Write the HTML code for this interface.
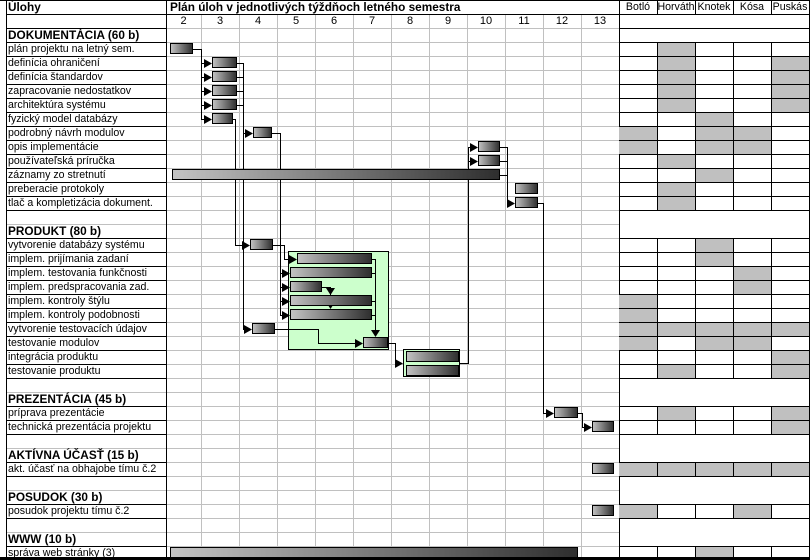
<!DOCTYPE html>
<html><head><meta charset="utf-8">
<style>
body{margin:0;width:810px;height:560px;background:#fff;overflow:hidden;position:relative;font-family:"Liberation Sans",Arial,sans-serif;font-size:10.6px;color:#000}
.t{position:absolute;left:8px;height:14px;line-height:14px;white-space:nowrap}
.b{font-weight:bold;font-size:11.8px}
.n{position:absolute;top:14px;height:14px;line-height:14px;text-align:center;font-size:11px}
.p{position:absolute;top:0;height:14px;line-height:14px;text-align:center}
svg{position:absolute;left:0;top:0}
</style></head><body>
<svg width="810" height="560" viewBox="0 0 810 560">
<defs>
<linearGradient id="g" x1="0" y1="0" x2="1" y2="0"><stop offset="0" stop-color="#c4c4c4"/><stop offset="1" stop-color="#2e2e2e"/></linearGradient>
<linearGradient id="v" x1="0" y1="0" x2="0" y2="1"><stop offset="0" stop-color="#fff" stop-opacity="0.25"/><stop offset="1" stop-color="#000" stop-opacity="0.25"/></linearGradient>
<pattern id="hg" x="0" y="0" width="810" height="14" patternUnits="userSpaceOnUse"><rect x="0" y="0" width="810" height="1" fill="#c0c0c0"/></pattern>
</defs>
<rect x="6" y="14" width="613" height="544" fill="url(#hg)"/>
<g stroke="#c0c0c0" stroke-width="1">
<line x1="201.5" y1="14" x2="201.5" y2="558"/><line x1="239.5" y1="14" x2="239.5" y2="558"/>
<line x1="277.5" y1="14" x2="277.5" y2="558"/><line x1="315.5" y1="14" x2="315.5" y2="558"/>
<line x1="353.5" y1="14" x2="353.5" y2="558"/><line x1="391.5" y1="14" x2="391.5" y2="558"/>
<line x1="429.5" y1="14" x2="429.5" y2="558"/><line x1="467.5" y1="14" x2="467.5" y2="558"/>
<line x1="505.5" y1="14" x2="505.5" y2="558"/><line x1="543.5" y1="14" x2="543.5" y2="558"/>
<line x1="581.5" y1="14" x2="581.5" y2="558"/>
</g>
<g stroke="#000" stroke-width="1">
<line x1="6" y1="14.5" x2="619" y2="14.5"/>
<line x1="6" y1="28.5" x2="166" y2="28.5"/>
<path d="M6 42.5H166M6 56.5H166M6 70.5H166M6 84.5H166M6 98.5H166M6 112.5H166M6 126.5H166M6 140.5H166M6 154.5H166M6 168.5H166M6 182.5H166M6 196.5H166M6 210.5H166
M6 238.5H166M6 252.5H166M6 266.5H166M6 280.5H166M6 294.5H166M6 308.5H166M6 322.5H166M6 336.5H166M6 350.5H166M6 364.5H166M6 378.5H166
M6 406.5H166M6 420.5H166M6 434.5H166M6 462.5H166M6 476.5H166M6 504.5H166M6 518.5H166M6 546.5H166"/>
<line x1="6.5" y1="0" x2="6.5" y2="560"/>
<line x1="166.5" y1="0" x2="166.5" y2="560"/>
<line x1="619.5" y1="0" x2="619.5" y2="560"/>
<line x1="0" y1="0.5" x2="810" y2="0.5"/>
<line x1="809.5" y1="0" x2="809.5" y2="560"/>
</g>
<g fill="#c0c0c0">
<rect x="657" y="42" width="38" height="14"/>
<rect x="657" y="56" width="38" height="56"/><rect x="771" y="56" width="38" height="56"/>
<rect x="695" y="112" width="38" height="14"/>
<rect x="619" y="126" width="38" height="28"/><rect x="695" y="126" width="76" height="28"/>
<rect x="657" y="154" width="38" height="14"/>
<rect x="695" y="168" width="38" height="14"/>
<rect x="657" y="182" width="38" height="28"/>
<rect x="695" y="238" width="38" height="28"/>
<rect x="733" y="266" width="38" height="28"/>
<rect x="619" y="294" width="38" height="28"/>
<rect x="619" y="322" width="190" height="14"/>
<rect x="619" y="336" width="38" height="14"/><rect x="695" y="336" width="76" height="14"/>
<rect x="771" y="350" width="38" height="28"/><rect x="657" y="364" width="38" height="14"/>
<rect x="657" y="406" width="38" height="14"/><rect x="771" y="406" width="38" height="28"/>
<rect x="619" y="462" width="190" height="14"/>
<rect x="619" y="504" width="38" height="14"/><rect x="733" y="504" width="38" height="14"/>
<rect x="695" y="546" width="38" height="14"/>
</g>
<g stroke="#000" stroke-width="1" fill="none">
<path d="M619 14.5H810M619 28.5H810M619 42.5H810M619 56.5H810M619 70.5H810M619 84.5H810M619 98.5H810M619 112.5H810M619 126.5H810M619 140.5H810M619 154.5H810M619 168.5H810M619 182.5H810M619 196.5H810M619 210.5H810
M619 238.5H810M619 252.5H810M619 266.5H810M619 280.5H810M619 294.5H810M619 308.5H810M619 322.5H810M619 336.5H810M619 350.5H810M619 364.5H810M619 378.5H810
M619 406.5H810M619 420.5H810M619 434.5H810M619 462.5H810M619 476.5H810M619 504.5H810M619 518.5H810M619 546.5H810"/>
<path d="M657.5 0V14M695.5 0V14M733.5 0V14M771.5 0V14
M657.5 42V210M695.5 42V210M733.5 42V210M771.5 42V210
M657.5 238V378M695.5 238V378M733.5 238V378M771.5 238V378
M657.5 406V434M695.5 406V434M733.5 406V434M771.5 406V434
M657.5 462V476M695.5 462V476M733.5 462V476M771.5 462V476
M657.5 504V518M695.5 504V518M733.5 504V518M771.5 504V518
M657.5 546V560M695.5 546V560M733.5 546V560M771.5 546V560"/>
</g>
<rect x="288.5" y="251.5" width="100" height="98" fill="#ccffcc" stroke="#000"/>
<rect x="403.5" y="349.5" width="56" height="27" fill="#ccffcc" stroke="#000"/>
<g stroke="#000" stroke-width="1" fill="none">
<path d="M192 49.5H201.5V119.5M201 63.5H210M201 77.5H210M201 91.5H210M201 105.5H210M201 119.5H210"/>
<path d="M236 63.5H243.5V329.5M236 77.5H243M236 91.5H243M236 105.5H243M243 133.5H251M243 329.5H250"/>
<path d="M232 119.5H235.5V245.5H248"/>
<path d="M271 133.5H280.5V315.5M280 273.5H288M280 287.5H288M280 301.5H288M280 315.5H288"/>
<path d="M272 245.5H284.5V259.5H295"/>
<path d="M321 287.5H330.5V308"/>
<path d="M371 259.5H375.5V336M371 273.5H375M371 301.5H375M371 315.5H375"/>
<path d="M274 329.5H318.5V343.5H361"/>
<path d="M387 343.5H395.5V363.5H401"/>
<path d="M459 363.5H468.5V147.5H476M468 161.5H476"/>
<path d="M499 147.5H507.5V203.5H513M499 161.5H507M499 175.5H507"/>
<path d="M537 203.5H543.5V413.5H552"/>
<path d="M577 413.5H582.5V427.5H590"/>
</g>
<g fill="#000">
<polygon points="212,63.5 204,59 204,68"/><polygon points="212,77.5 204,73 204,82"/><polygon points="212,91.5 204,87 204,96"/><polygon points="212,105.5 204,101 204,110"/><polygon points="212,119.5 204,115 204,124"/>
<polygon points="253,133.5 245,129 245,138"/>
<polygon points="250,245.5 242,241 242,250"/>
<polygon points="297,259.5 289,255 289,264"/>
<polygon points="290,273.5 282,269 282,278"/><polygon points="290,287.5 282,283 282,292"/><polygon points="290,301.5 282,297 282,306"/><polygon points="290,315.5 282,311 282,320"/>
<polygon points="330.5,295 326,288 335,288"/><polygon points="330.5,309 326,302 335,302"/>
<polygon points="375.5,337 371,330 380,330"/>
<polygon points="252,329.5 244,325 244,334"/>
<polygon points="363,343.5 355,339 355,348"/>
<polygon points="403,363.5 395,359 395,368"/>
<polygon points="478,147.5 470,143 470,152"/><polygon points="478,161.5 470,157 470,166"/>
<polygon points="515,203.5 507,199 507,208"/>
<polygon points="554,413.5 546,409 546,418"/>
<polygon points="592,427.5 584,423 584,432"/>
</g>
<g id="bars" stroke="#000" stroke-width="1">
<g fill="url(#g)">
<rect x="170.5" y="43.5" width="22" height="10"/>
<rect x="212.5" y="57.5" width="24" height="10"/><rect x="212.5" y="71.5" width="24" height="10"/><rect x="212.5" y="85.5" width="24" height="10"/><rect x="212.5" y="99.5" width="24" height="10"/>
<rect x="212.5" y="113.5" width="20" height="10"/>
<rect x="253.5" y="127.5" width="18" height="10"/>
<rect x="478.5" y="141.5" width="21" height="10"/><rect x="478.5" y="155.5" width="21" height="10"/>
<rect x="172.5" y="169.5" width="327" height="10"/>
<rect x="515.5" y="183.5" width="22" height="10"/><rect x="515.5" y="197.5" width="22" height="10"/>
<rect x="250.5" y="239.5" width="22" height="10"/>
<rect x="297.5" y="253.5" width="74" height="10"/>
<rect x="290.5" y="267.5" width="81" height="10"/>
<rect x="290.5" y="281.5" width="31" height="10"/>
<rect x="290.5" y="295.5" width="81" height="10"/>
<rect x="290.5" y="309.5" width="81" height="10"/>
<rect x="252.5" y="323.5" width="22" height="10"/>
<rect x="363.5" y="337.5" width="24" height="10"/>
<rect x="406.5" y="351.5" width="52" height="10"/><rect x="406.5" y="365.5" width="52" height="10"/>
<rect x="554.5" y="407.5" width="23" height="10"/>
<rect x="592.5" y="421.5" width="21" height="10"/>
<rect x="592.5" y="463.5" width="21" height="10"/>
<rect x="592.5" y="505.5" width="21" height="10"/>
<rect x="170.5" y="547.5" width="407" height="10"/>
</g>
</g>
<rect x="0" y="557" width="810" height="3" fill="#000"/>
</svg>

<div class="t b" style="top:0">Úlohy</div>
<div class="t b" style="top:0;left:170px">Plán úloh v jednotlivých týždňoch letného semestra</div>
<div class="n" style="left:166px;width:35px">2</div>
<div class="n" style="left:201px;width:38px">3</div>
<div class="n" style="left:239px;width:38px">4</div>
<div class="n" style="left:277px;width:38px">5</div>
<div class="n" style="left:315px;width:38px">6</div>
<div class="n" style="left:353px;width:38px">7</div>
<div class="n" style="left:391px;width:38px">8</div>
<div class="n" style="left:429px;width:38px">9</div>
<div class="n" style="left:467px;width:38px">10</div>
<div class="n" style="left:505px;width:38px">11</div>
<div class="n" style="left:543px;width:38px">12</div>
<div class="n" style="left:581px;width:38px">13</div>
<div class="p" style="left:619px;width:38px">Botló</div>
<div class="p" style="left:657px;width:38px">Horváth</div>
<div class="p" style="left:695px;width:38px">Knotek</div>
<div class="p" style="left:733px;width:38px">Kósa</div>
<div class="p" style="left:771px;width:38px">Puskás</div>

<div class="t b" style="top:28px">DOKUMENTÁCIA (60 b)</div>
<div class="t" style="top:42px">plán projektu na letný sem.</div>
<div class="t" style="top:56px">definícia ohraničení</div>
<div class="t" style="top:70px">definícia štandardov</div>
<div class="t" style="top:84px">zapracovanie nedostatkov</div>
<div class="t" style="top:98px">architektúra systému</div>
<div class="t" style="top:112px">fyzický model databázy</div>
<div class="t" style="top:126px">podrobný návrh modulov</div>
<div class="t" style="top:140px">opis implementácie</div>
<div class="t" style="top:154px">používateľská príručka</div>
<div class="t" style="top:168px">záznamy zo stretnutí</div>
<div class="t" style="top:182px">preberacie protokoly</div>
<div class="t" style="top:196px">tlač a kompletizácia dokument.</div>
<div class="t b" style="top:224px">PRODUKT (80 b)</div>
<div class="t" style="top:238px">vytvorenie databázy systému</div>
<div class="t" style="top:252px">implem. prijímania zadaní</div>
<div class="t" style="top:266px">implem. testovania funkčnosti</div>
<div class="t" style="top:280px">implem. predspracovania zad.</div>
<div class="t" style="top:294px">implem. kontroly štýlu</div>
<div class="t" style="top:308px">implem. kontroly podobnosti</div>
<div class="t" style="top:322px">vytvorenie testovacích údajov</div>
<div class="t" style="top:336px">testovanie modulov</div>
<div class="t" style="top:350px">integrácia produktu</div>
<div class="t" style="top:364px">testovanie produktu</div>
<div class="t b" style="top:392px">PREZENTÁCIA (45 b)</div>
<div class="t" style="top:406px">príprava prezentácie</div>
<div class="t" style="top:420px">technická prezentácia projektu</div>
<div class="t b" style="top:448px">AKTÍVNA ÚČASŤ (15 b)</div>
<div class="t" style="top:462px">akt. účasť na obhajobe tímu č.2</div>
<div class="t b" style="top:490px">POSUDOK (30 b)</div>
<div class="t" style="top:504px">posudok projektu tímu č.2</div>
<div class="t b" style="top:532px">WWW (10 b)</div>
<div class="t" style="top:546px">správa web stránky (3)</div>
</body></html>
